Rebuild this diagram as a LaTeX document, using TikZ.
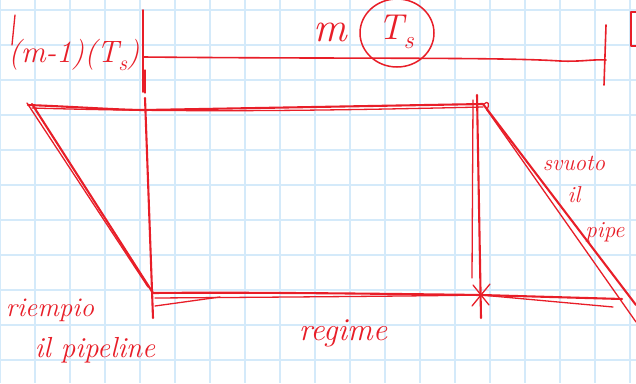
\documentclass[tikz,border=0pt]{standalone}
\usepackage{fontspec}
\usetikzlibrary{shapes.geometric}
\definecolor{ink}{RGB}{232,30,40}
\definecolor{gridc}{RGB}{212,234,250}
\newcommand{\sbs}[1]{\raisebox{-0.25em}{\scalebox{0.7}{#1}}}
\begin{document}
\begin{tikzpicture}[x=1pt,y=-1pt,
  stroke/.style={draw=ink,line width=2.1pt,line cap=round,line join=round},
  fine/.style={draw=ink,line width=1.3pt,line cap=round,line join=round},
  lab/.style={text=ink,inner sep=0pt,font=\itshape\fontsize{#1}{#1}\selectfont},
  lab/.default=22]
\useasboundingbox (0,0) rectangle (636,383);
\fill[white] (0,0) rectangle (636,383);
\foreach \x in {0,35,...,630} \draw[gridc,line width=1.2pt] (\x,0) -- (\x,383);
\foreach \y in {10,45,...,360} \draw[gridc,line width=1.2pt] (0,\y) -- (636,\y);

% corners
\coordinate (tl) at (28,105);
\coordinate (rtl) at (145,110);
\coordinate (rtr) at (483,104);
\coordinate (rbl) at (153,293);
\coordinate (rbr) at (481,295);
\coordinate (br) at (622,299);

% top dimension line
\coordinate (dl) at (143,57);
\coordinate (dr) at (606,60);
\draw[stroke,line width=1.6pt] (143,10) -- (143,92);
\draw[fine] (145,70) -- (145,93);
\draw[stroke,line width=1.6pt] (dl) .. controls (350,59) and (500,57) .. (560,61) .. controls (580,62) and (595,59) .. (dr);
\draw[stroke,line width=1.6pt] (606,25) -- (604,85);
\draw[fine] (15,15) -- (12,45);
\draw[stroke,line width=1.6pt] (636,12) -- (631,12) -- (631,46) -- (636,46);

% labels on top
\node[lab=31] (fill) at (74,55) {(m-1)(T\sbs{s})};
\node[lab=42] (mm) at (330,32) {m};
\node[draw=ink,line width=1.5pt,ellipse,minimum width=74pt,minimum height=68pt,inner sep=0pt] (circ) at (397,33) {};
\node[lab=36] (ts) at (396,32) {T\sbs{s}};

% top edge
\draw[stroke] (tl) .. controls (80,107) and (120,110) .. (rtl) -- (rtr);
\draw[fine] (32,108) .. controls (200,113) and (350,110) .. (483,107);
% left slant
\draw[stroke] (32,104) -- (rbl);
\draw[fine] (27,103) -- (148,287);
% left vertical
\draw[stroke] (145,98) -- (153,318);
% bottom edge
\draw[stroke] (rbl) .. controls (250,292) and (400,294) .. (rbr) -- (br);
\draw[fine] (155,298) .. controls (300,297) and (420,296) .. (rbr) -- (613,307);
\draw[fine] (155,306) -- (220,297);
% right vertical
\draw[stroke] (477,95) -- (481,318);
\draw[fine] (473,100) -- (472,278);
% right slant
\draw[stroke] (rtr) -- (636,305);
\draw[fine] (487,110) -- (636,322);
\draw[fine] (484,104) .. controls (488,100) and (490,104) .. (487,110);
% star
\draw[fine] (rbr) ++(-8,-10) -- ++(16,20);
\draw[fine] (rbr) ++(9,-11) -- ++(-18,22);
\draw[fine] (rbr) ++(-10,0) -- ++(20,0);

% bottom / side labels
\node[lab=27] (riempio) at (50,310) {riempio};
\node[lab=29] (ilpipe) at (95,350) {il pipeline};
\node[lab=32] (regime) at (343,333) {regime};
\node[lab=23] (svuoto) at (574,163) {svuoto};
\node[lab=23] (il) at (574,195) {il};
\node[lab=23] (pipe) at (605,232) {pipe};
\end{tikzpicture}
\end{document}
